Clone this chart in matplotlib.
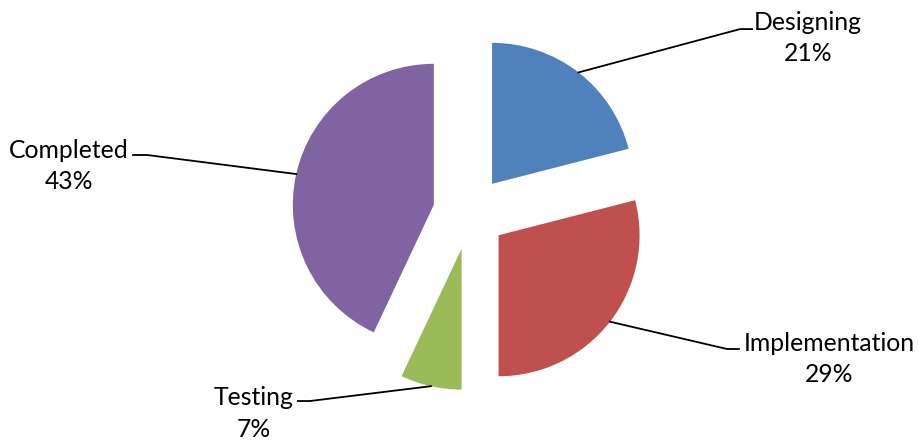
import numpy as np
import matplotlib.pyplot as plt

# chart data
categories = ['Designing', 'Implementation', 'Testing', 'Completed']
shares = [21, 29, 7, 43]
colors = ['#4F81BD', '#C0504D', '#9BBB59', '#8064A2']

# label layout (data units, pie radius = 1)
label_xy = [(2.40, 1.24), (2.55, -1.037), (-1.529, -1.423), (-2.84, 0.332)]
elbow_xy = [(1.918, 1.303), (1.826, -0.966), (-1.133, -1.335), (-2.287, 0.41)]
tail_xy = [(2.003, 1.303), (1.91, -0.966), (-1.218, -1.335), (-2.387, 0.41)]
explode = 0.26

fig = plt.figure(figsize=(9.2, 4.41), dpi=100)
ax = fig.add_axes([0, 0, 1, 1])
wedges, _ = ax.pie(shares, colors=colors, startangle=90, counterclock=False,
                   explode=[explode] * len(shares), radius=1,
                   wedgeprops=dict(linewidth=0))

# pixel scale: 1 data unit = 141 px, pie center at (469.6, 212.8) px
unit, cx, cy = 141.0, 469.6, 212.8
ax.set_xlim(-cx / unit, (920 - cx) / unit)
ax.set_ylim(-(441 - cy) / unit, cy / unit)
ax.set_aspect('auto')
ax.axis('off')

total = sum(shares)
for w, name, val, lxy, exy, txy in zip(wedges, categories, shares,
                                       label_xy, elbow_xy, tail_xy):
    mid = np.deg2rad((w.theta1 + w.theta2) / 2)
    sx, sy = (1 + explode) * np.cos(mid), (1 + explode) * np.sin(mid)
    ax.plot([sx, exy[0], txy[0]], [sy, exy[1], txy[1]], color='black', lw=1.3)
    ax.text(lxy[0], lxy[1], f'{name}\n{round(val / total * 100)}%',
            ha='center', va='center', fontsize=17.8, family='Lato',
            linespacing=1.45, color='black')

fig.savefig('out.png', dpi=100)
